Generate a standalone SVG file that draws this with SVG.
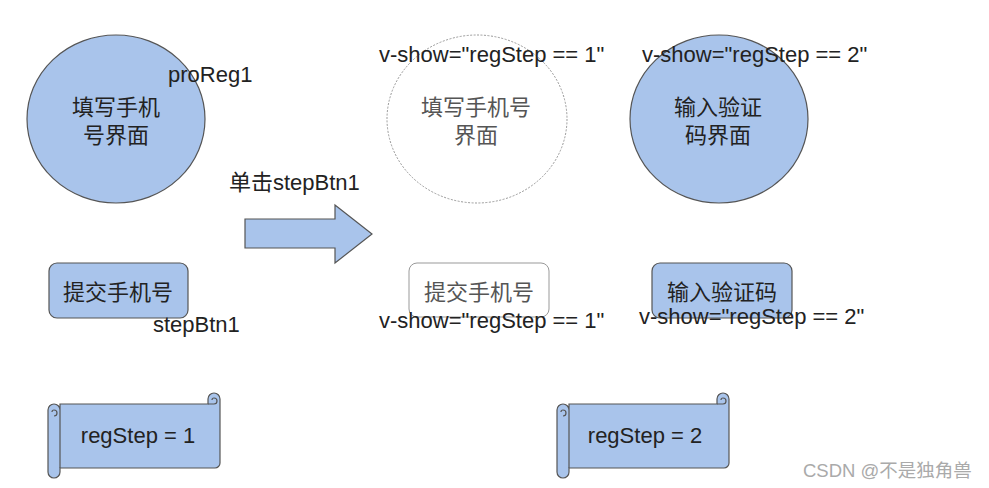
<svg xmlns="http://www.w3.org/2000/svg" width="989" height="488" viewBox="0 0 989 488">
<style>
  .t { font-family: "Liberation Sans", "Noto Sans CJK SC", sans-serif; font-size: 22px; fill: #222; }
  .c { text-anchor: middle; }
  .g { fill: #555; }
  .blue { fill: #A9C4EB; stroke: #555; stroke-width: 1.2; }
  .ghost { fill: #fff; stroke: #999; stroke-width: 1; }
  .wm { font-family: "Liberation Sans", "Noto Sans CJK SC", sans-serif; font-size: 18.5px; fill: #aaa; }
</style>
<defs>
  <g id="scroll">
    <path class="blue" d="M 60 404 L 208 404 L 208 399 A 6 6 0 0 1 220 399 L 220 463 A 5 5 0 0 1 215 468 L 60 468 L 60 472 A 6 6 0 0 1 48 472 L 48 410 A 6 6 0 0 1 60 410 Z"/>
    <path d="M 60 410 L 60 468 M 208 404 L 214 404 A 3 3 0 0 0 214 398 A 2 2 0 0 0 212 400 M 54 416 A 3 3 0 0 0 54 410 A 2 2 0 0 0 52 412" fill="none" stroke="#555" stroke-width="1.2"/>
  </g>
</defs>
<rect width="989" height="488" fill="#fff"/>

<g id="connectors">
  <path class="blue" d="M 245 219 L 335 219 L 335 205 L 372 234 L 335 263 L 335 248 L 245 248 Z"/>
  <text class="t" x="229" y="190">单击stepBtn1</text>
</g>

<g id="circle1">
  <ellipse class="blue" cx="116" cy="119" rx="89" ry="84"/>
  <text class="t c" x="116" y="115">填写手机</text>
  <text class="t c" x="116" y="143">号界面</text>
  <text class="t" x="168" y="82">proReg1</text>
</g>

<g id="button1">
  <rect class="blue" x="49" y="263" width="139" height="55" rx="8"/>
  <text class="t c" x="118" y="300">提交手机号</text>
  <text class="t" x="153" y="332">stepBtn1</text>
</g>

<g id="circle2">
  <ellipse class="ghost" cx="477" cy="119" rx="90" ry="84" stroke-dasharray="2,1.5"/>
  <text class="t c g" x="476" y="115">填写手机号</text>
  <text class="t c g" x="476" y="143">界面</text>
  <text class="t" x="379" y="62">v-show="regStep == 1"</text>
</g>

<g id="circle3">
  <ellipse class="blue" cx="719" cy="119" rx="89" ry="84"/>
  <text class="t c" x="718" y="115">输入验证</text>
  <text class="t c" x="718" y="143">码界面</text>
  <text class="t" x="642" y="62">v-show="regStep == 2"</text>
</g>

<g id="button2">
  <rect class="ghost" x="409" y="263" width="140" height="54" rx="8"/>
  <text class="t c g" x="479" y="300">提交手机号</text>
  <text class="t" x="379" y="328">v-show="regStep == 1"</text>
</g>

<g id="button3">
  <rect class="blue" x="652" y="263" width="140" height="55" rx="8"/>
  <text class="t c" x="722" y="300">输入验证码</text>
  <text class="t" x="639" y="324">v-show="regStep == 2"</text>
</g>

<g id="scroll1">
  <use href="#scroll"/>
  <text class="t c" x="138" y="443">regStep = 1</text>
</g>

<g id="scroll2">
  <use href="#scroll" x="509"/>
  <text class="t c" x="645" y="443">regStep = 2</text>
</g>

<text class="wm" x="803" y="477">CSDN @不是独角兽</text>
</svg>
